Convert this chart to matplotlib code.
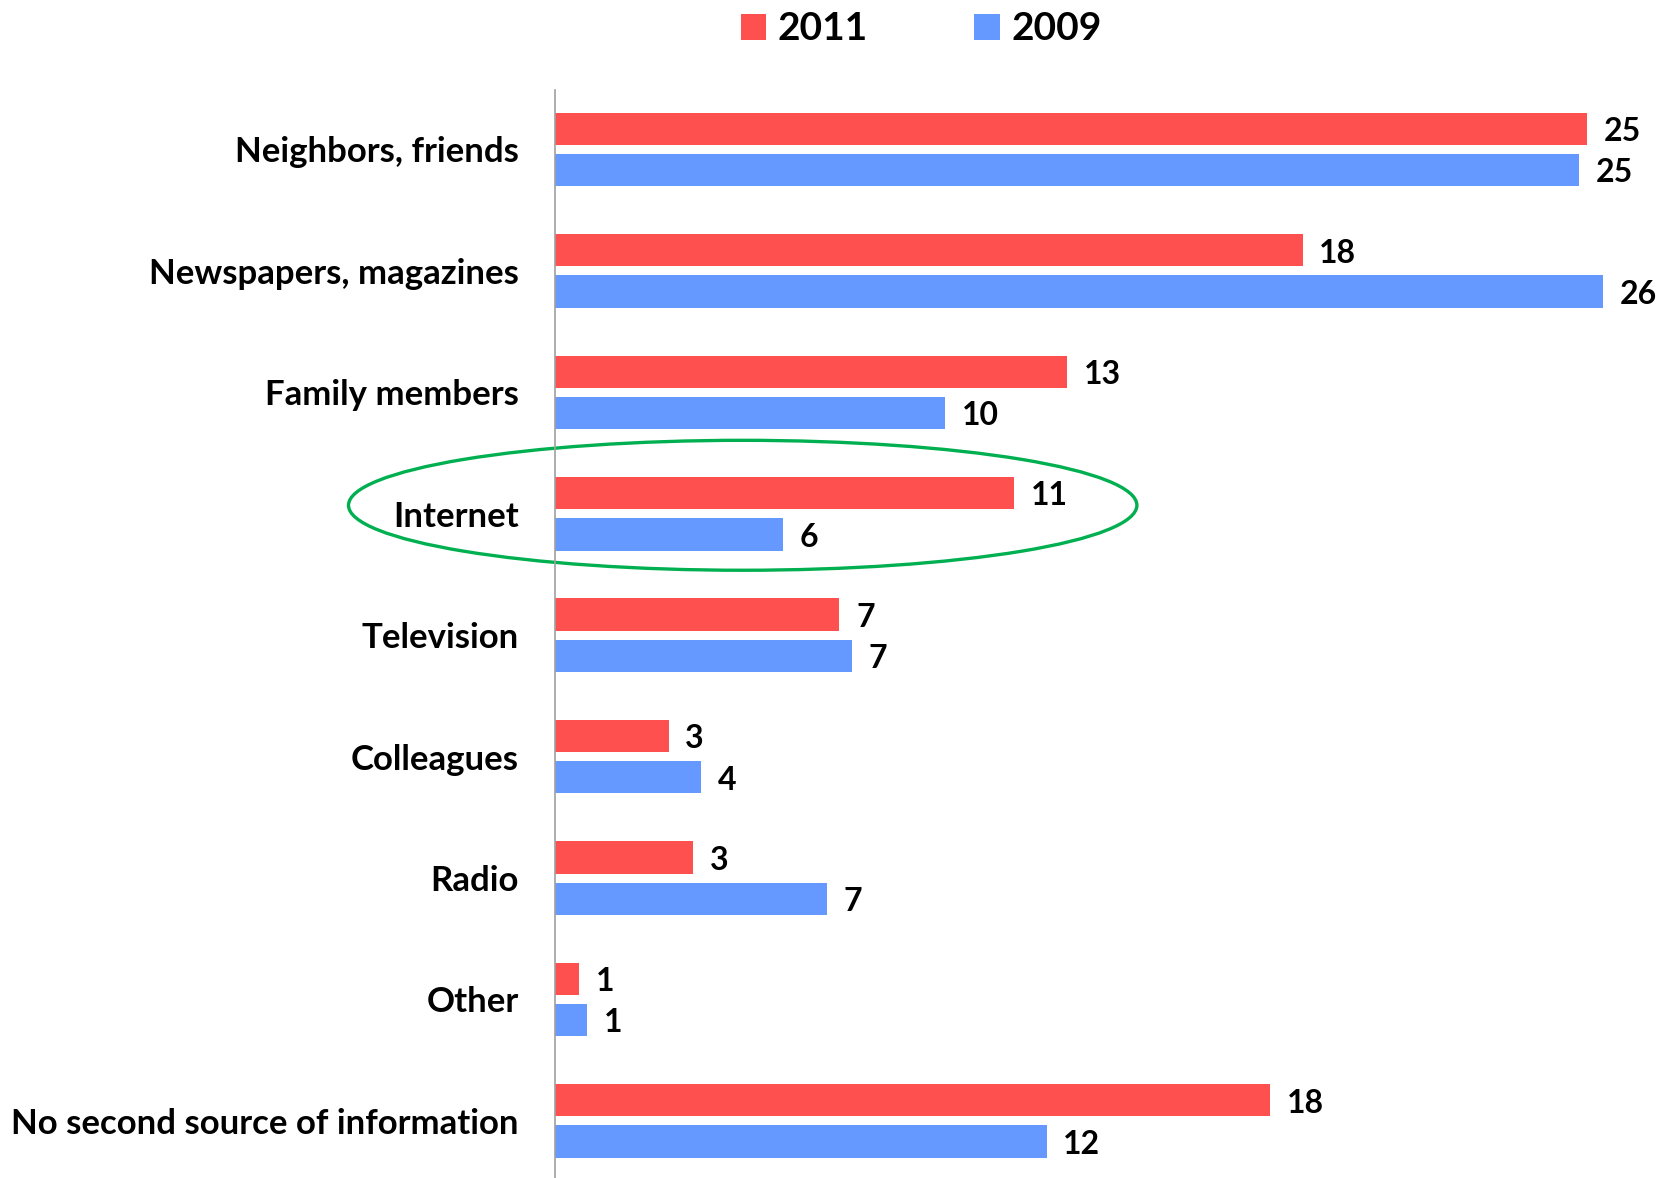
#!/usr/bin/env python3
"""Second source of information, 2011 vs 2009 (horizontal grouped bars)."""

import matplotlib
matplotlib.use("Agg")
import matplotlib.pyplot as plt
from matplotlib.patches import Ellipse
import numpy as np

plt.rcParams.update({
    "font.family": ["Lato", "DejaVu Sans"],
    "font.weight": "bold",
})

categories = [
    "Neighbors, friends",
    "Newspapers, magazines",
    "Family members",
    "Internet",
    "Television",
    "Colleagues",
    "Radio",
    "Other",
    "No second source of information",
]
# bar lengths; labels show them rounded
values_2011 = [25.4, 18.4, 12.6, 11.3, 7.0, 2.8, 3.4, 0.6, 17.6]
values_2009 = [25.2, 25.8, 9.6, 5.6, 7.3, 3.6, 6.7, 0.8, 12.1]
series_names = ["2011", "2009"]

COLORS = {"2011": "#FF5050", "2009": "#6699FF"}

fig = plt.figure(figsize=(16.66, 11.78), dpi=100)
ax = fig.add_axes([0.3331, 0.0, 0.6669, 0.9236])

y = np.arange(len(categories))
h = 0.265
off = 0.17
b1 = ax.barh(y - off, values_2011, height=h, color=COLORS["2011"], label="2011")
b2 = ax.barh(y + off, values_2009, height=h, color=COLORS["2009"], label="2009")

for bars, vals in ((b1, values_2011), (b2, values_2009)):
    for b, v in zip(bars, vals):
        ax.annotate(f"{v:.0f}", (b.get_width(), b.get_y() + b.get_height() / 2),
                    xytext=(12, -2), textcoords="offset points",
                    ha="left", va="center", fontsize=23, fontweight="bold")

ax.set_xlim(0, 27.34)
ax.set_ylim(8.47, -0.49)
ax.set_yticks(y)
ax.set_yticklabels(categories, fontsize=25, fontweight="bold")
ax.tick_params(axis="y", length=0, pad=26)
ax.set_xticks([])
for s in ("top", "right", "bottom"):
    ax.spines[s].set_visible(False)
ax.spines["left"].set_color("#A0A0A0")
ax.spines["left"].set_linewidth(1.2)

# highlight the Internet row
ax.add_patch(Ellipse((4.62, 2.93), 19.4, 1.07, angle=0, fill=False,
                     edgecolor="#00B050", linewidth=2.4, clip_on=False))

fig.legend(handles=[b1, b2], labels=series_names, loc="upper center",
           bbox_to_anchor=(0.553, 1.02), ncol=2, frameon=False,
           handlelength=0.65, handleheight=0.65,
           handletextpad=0.31, columnspacing=2.73,
           prop={"weight": "bold", "size": 28})

fig.savefig("out.png", dpi=100)
